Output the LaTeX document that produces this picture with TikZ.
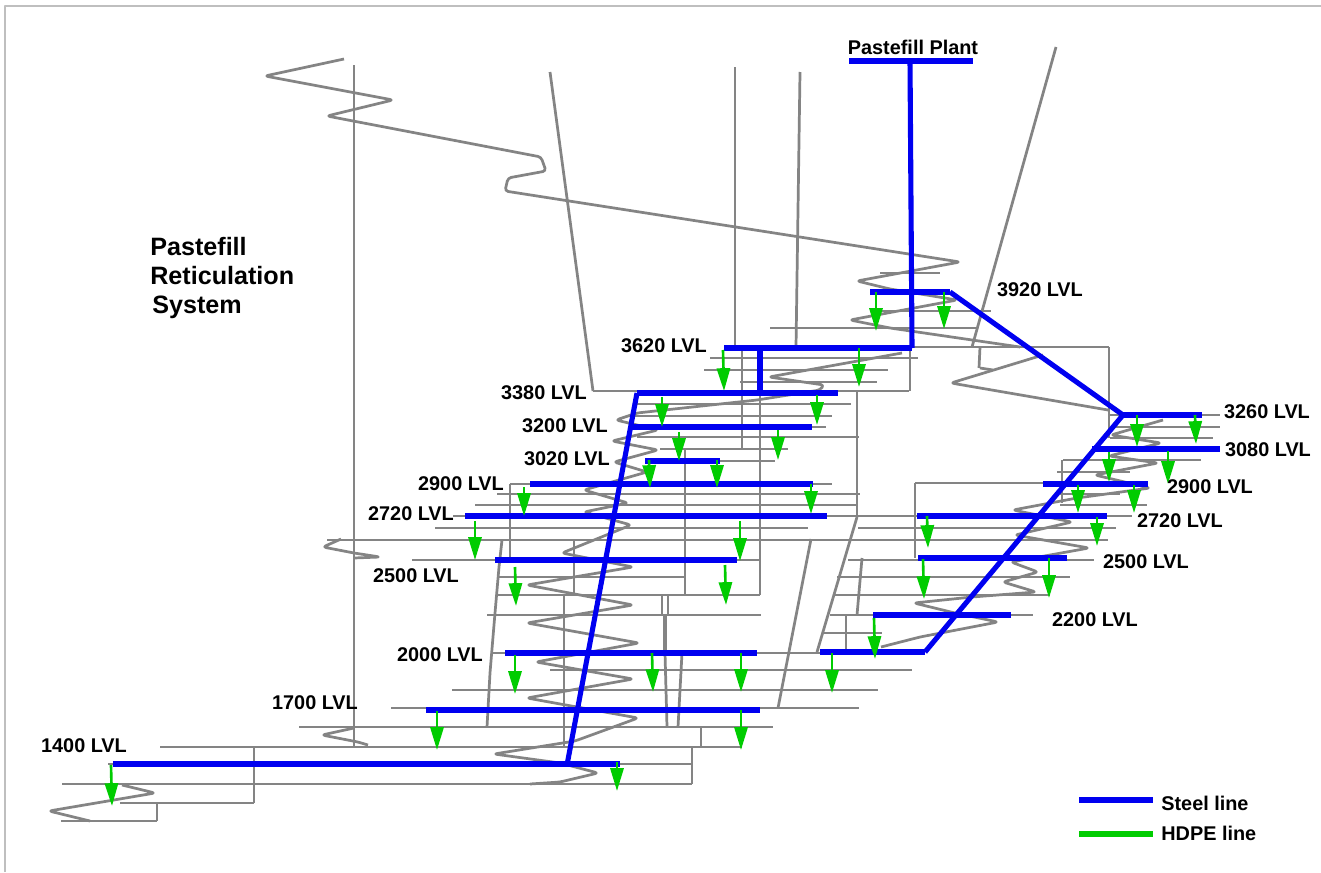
\documentclass[tikz,border=0pt]{standalone}
\usepackage{fontspec}
\setmainfont{Liberation Sans}
\usetikzlibrary{arrows.meta}
\definecolor{rockgray}{RGB}{132,132,132}
\definecolor{steelblue}{RGB}{0,0,240}
\definecolor{hdpegreen}{RGB}{0,204,0}
\tikzset{
	rock/.style={draw=rockgray,line width=1.55pt},
	ramp/.style={rock,rounded corners=1.8pt},
	steel/.style={draw=steelblue,line width=2.9pt},
	hdpe/.style={draw=hdpegreen,line width=1.5pt,-{Triangle[width=7.5pt,length=13pt]}},
	lvl/.style={font=\bfseries\fontsize{11.3}{13}\selectfont,inner sep=0pt},
	titletxt/.style={font=\bfseries\fontsize{14.3}{16}\selectfont,inner sep=0pt,anchor=west}
}
\begin{document}
\begin{tikzpicture}[x=0.02cm,y=-0.02cm,line join=round]
	\useasboundingbox (0,0) rectangle (1321,872);
	\fill[white] (0,0) rectangle (1321,872);
	\draw[lightgray,line width=0.7pt] (5,872)--(5,6)--(1321,6);
	% levels: y / x_left / x_right
	\foreach \yy/\xa/\xb in {
		311/882/991, 328/770/977, 347/912/1109, 358/710/918, 370/704/888, 382/740/877, 391/593/909,
		404/637/851, 416/630/832, 427/630/826, 437/637/859, 449/660/788, 461/645/775,
		484/510/832, 494/497/860, 505/475/857, 516/453/1132, 528/435/808, 540/327/1108,
		560/412/760, 577/499/685, 595/497/760, 615/487/761, 653/492/820, 670/550/912, 690/452/878,
		708/391/859, 727/299/773, 747/160/742, 764/108/692, 784/62/692, 803/120/254, 821/61/157,
		415/1110/1220, 427/1113/1220, 438/1110/1213, 460/1063/1201, 472/1057/1130, 483/915/1148,
		494/1060/1120, 505/1060/1147, 528/858/1116, 560/848/1094, 577/837/1070, 595/835/1050,
		615/830/1033, 633/823/882}
		\draw[rock] (\xa,\yy)--(\xb,\yy);
	% shafts
	\foreach \xa/\ya/\xb/\yb in {
		354/65/354/746, 550/72/593/391, 742/348/742/449, 760/391/760/595, 857/391/857/517, 857/517/817/652,
		811/539/778/708, 910/348/910/391, 735/67/735/348, 800/72/796/347, 1056/47/972/347, 980/347/979/368,
		1109/347/1109/438, 1062/460/1062/503, 510/484/510/560, 574/540/574/595, 564/595/564/747,
		685/449/685/595, 915/483/915/558, 862/558/857/615, 846/615/846/652, 254/747/254/803, 157/803/157/821,
		701/727/701/747, 692/747/692/784, 662/595/662/615, 668/595/668/615, 664/615/664/653, 666/615/666/653,
		665/653/667/727, 682/653/678/727}
		\draw[rock] (\xa,\ya)--(\xb,\yb);
	\draw[rock] (502,540)--(499,567)--(495,613)--(490,673)--(487,727);
	% ramps
	\draw[ramp] (344,59)--(265,76)--(393,100)--(327,116)--(541,157)--(546,171)--(508,178)--(505,191)--(960,262)--(857,281)--(890,289)--(957,300)--(850,320)--(890,328)--(1020,347);
	\draw[rock] (880,273)--(940,273);
	\draw[rock] (980,368)--(993,370);
	\draw[ramp] (1043,355)--(951,383)--(1108,410);
	\draw[ramp] (902,353)--(769,377)--(824,385)--(820,390)--(757,400)--(637,413)--(616,420)--(658,430)--(612,441)--(658,450)--(614,462)--(647,472)--(584,490)--(628,503)--(584,512)--(631,525)--(562,553)--(633,567)--(527,585)--(633,605)--(527,623)--(639,643)--(536,662)--(633,679)--(527,698)--(638,718)--(575,741)--(494,754)--(560,763)--(598,773)--(560,782)--(530,784);
	\draw[ramp] (341,539)--(323,547)--(354,553)--(380,557)--(354,558);
	\draw[ramp] (354,728)--(322,735)--(358,742)--(368,745);
	\draw[ramp] (122,785)--(155,793)--(49,811)--(90,821);
	\draw[ramp] (1163,420)--(1111,435)--(1161,443)--(1109,456)--(1158,463)--(1095,475)--(1150,488)--(1077,498)--(1013,510)--(1072,522)--(1015,535)--(1089,548)--(1011,562)--(1038,572)--(1003,582)--(1036,592)--(972,597)--(914,603)--(955,613)--(998,622)--(920,637)--(881,647);
	% steel lines
	\foreach \yy/\xa/\xb in {61/849/973, 292/870/950, 348/724/912, 393/637/838, 427/630/812, 461/645/720, 484/530/813, 516/465/827, 560/495/737, 653/505/757, 710/426/760, 764/113/620, 415/1123/1202, 449/1092/1220, 484/1043/1148, 516/917/1107, 558/918/1067, 615/873/1011, 652/820/925}
		\draw[steel] (\xa,\yy)--(\xb,\yy);
	\draw[steel] (910,61)--(912,348);
	\draw[steel] (950,292)--(1123,415)--(925,652);
	\draw[steel] (760,348)--(760,393);
	\draw[steel] (637,393)--(567,765);
	% HDPE lines
	\foreach \xa/\ya/\xb/\yb in {
		876/292/876/331, 944/292/944/329, 723/350/724/391, 859/348/859/387, 662/397/662/427, 817/395/817/425,
		679/432/679/461, 778/430/778/460, 649/460/650/488, 717/460/717/488, 524/487/524/516, 811/484/811/514,
		475/521/475/560, 740/521/740/561, 515/567/516/606, 725/565/726/605, 515/655/515/694, 652/653/653/692,
		741/653/741/692, 832/653/832/693, 437/711/437/750, 741/710/741/750, 111/765/112/806, 617/762/617/791,
		1137/415/1137/447, 1195/415/1196/444, 1109/452/1109/482, 1168/451/1168/484, 1078/485/1078/513,
		1134/485/1134/513, 927/516/928/548, 1097/517/1097/546, 923/559/924/599, 1049/558/1049/598, 874/618/875/659}
		\draw[hdpe] (\xa,\ya)--(\xb,\yb);
	% labels
	\node[lvl] (plant) at (913,47) {Pastefill Plant};
	\node[lvl] (l3920) at (1040,290) {3920 LVL};
	\node[lvl] (l3620) at (664,346) {3620 LVL};
	\node[lvl] (l3380) at (544,393) {3380 LVL};
	\node[lvl] (l3200) at (565,426) {3200 LVL};
	\node[lvl] (l3020) at (567,459) {3020 LVL};
	\node[lvl] (l2900a) at (461,484) {2900 LVL};
	\node[lvl] (l2720a) at (411,514) {2720 LVL};
	\node[lvl] (l2500a) at (416,576) {2500 LVL};
	\node[lvl] (l2000) at (440,655) {2000 LVL};
	\node[lvl] (l1700) at (315,703) {1700 LVL};
	\node[lvl] (l1400) at (84,746) {1400 LVL};
	\node[lvl] (l3260) at (1267,412) {3260 LVL};
	\node[lvl] (l3080) at (1268,450) {3080 LVL};
	\node[lvl] (l2900b) at (1210,487) {2900 LVL};
	\node[lvl] (l2720b) at (1180,521) {2720 LVL};
	\node[lvl] (l2500b) at (1146,562) {2500 LVL};
	\node[lvl] (l2200) at (1095,620) {2200 LVL};
	\node[titletxt] (ttl1) at (150,247) {Pastefill};
	\node[titletxt] (ttl2) at (150,276) {Reticulation};
	\node[titletxt] (ttl3) at (152,307) {System};
	% legend
	\node[lvl,anchor=west] (steeltxt) at (1161,803) {Steel line};
	\node[lvl,anchor=west] (hdpetxt) at (1161,833) {HDPE line};
	\coordinate (steelend) at (1079,800);
	\coordinate (hdpeend) at (1079,834);
	\draw[steel] (steelend)--(1153,800);
	\draw[hdpegreen,line width=2.9pt] (hdpeend)--(1153,834);
\end{tikzpicture}
\end{document}
